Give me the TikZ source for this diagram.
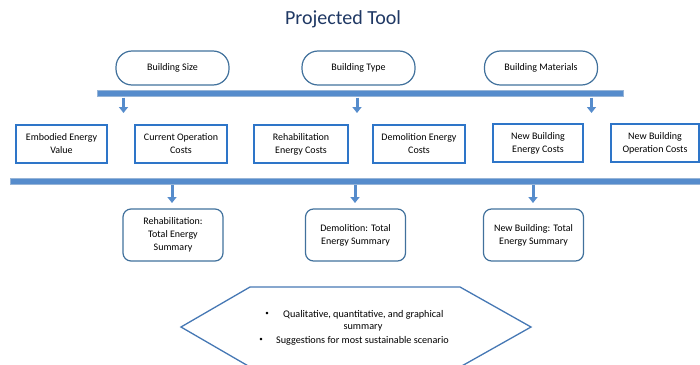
\documentclass[tikz,border=0pt]{standalone}
\usepackage{fontspec}
\setmainfont{Carlito}
\usetikzlibrary{arrows.meta}
\definecolor{titleblue}{RGB}{31,56,100}
\definecolor{boxblue}{RGB}{46,117,200}
\definecolor{pillblue}{RGB}{65,113,156}
\definecolor{hexblue}{RGB}{70,120,180}
\definecolor{barfill}{RGB}{86,140,204}
\definecolor{baredge}{RGB}{150,180,215}
\definecolor{arrowblue}{RGB}{86,140,204}
\tikzset{
  titletext/.style={text=titleblue, font=\fontsize{20}{24}\selectfont, inner sep=0pt},
  pill/.style={draw=pillblue, line width=1.2pt, rounded corners=16pt, minimum width=113pt, minimum height=34pt, font=\fontsize{10}{13}\selectfont, inner sep=0pt},
  rectbox/.style={draw=boxblue, line width=1.5pt, minimum height=38pt, align=center, font=\fontsize{10}{13}\selectfont, inner sep=0pt},
  sumbox/.style={draw=pillblue, line width=1.2pt, rounded corners=8pt, minimum width=100pt, minimum height=52pt, align=center, font=\fontsize{10}{13}\selectfont, inner sep=0pt},
  bar/.style={fill=barfill, draw=baredge, line width=0.8pt, inner sep=0pt, minimum height=6pt},
  blockarrow/.style={draw=arrowblue, line width=3pt, -{Triangle[width=9pt,length=6pt]}},
  hextext/.style={font=\fontsize{10.2}{13}\selectfont, inner sep=0pt, anchor=west},
  bullettext/.style={font=\fontsize{7}{8}\selectfont, inner sep=0pt},
}
\begin{document}
\begin{tikzpicture}[x=1pt,y=-1pt]
\useasboundingbox (0,0) rectangle (700,364);
\clip (0,0) rectangle (700,364);

\node[titletext] (title) at (343,19) {Projected Tool};

% top pills
\node[pill] (bsize) at (172.5,68) {Building Size};
\node[pill] (btype) at (358.5,68) {Building Type};
\node[pill] (bmat) at (541,68) {Building Materials};

% top bar
\node[bar, minimum width=526pt] (topbar) at (360,93.5) {};

% top arrows
\coordinate (ta1s) at (123.5,97.5); \coordinate (ta1e) at (123.5,113);
\coordinate (ta2s) at (357,97.5);   \coordinate (ta2e) at (357,113);
\coordinate (ta3s) at (591.5,97.5); \coordinate (ta3e) at (591.5,113);
\draw[blockarrow] (ta1s) -- (ta1e);
\draw[blockarrow] (ta2s) -- (ta2e);
\draw[blockarrow] (ta3s) -- (ta3e);

% middle boxes
\node[rectbox, minimum width=91pt] (emb) at (61.5,144) {Embodied Energy\\Value};
\node[rectbox, minimum width=92pt] (cur) at (181,144) {Current Operation\\Costs};
\node[rectbox, minimum width=94pt] (reh) at (301,144) {Rehabilitation\\Energy Costs};
\node[rectbox, minimum width=92pt] (dem) at (419,144) {Demolition Energy\\Costs};
\node[rectbox, minimum width=90pt] (nbe) at (538,143) {New Building\\Energy Costs};
\node[rectbox, minimum width=88pt] (nbo) at (655,143) {New Building\\Operation Costs};

% bottom bar
\node[bar, minimum width=700pt] (botbar) at (360,181) {};

% bottom arrows
\coordinate (ba1s) at (172,185); \coordinate (ba1e) at (172,203);
\coordinate (ba2s) at (355,185); \coordinate (ba2e) at (355,203);
\coordinate (ba3s) at (533,185); \coordinate (ba3e) at (533,203);
\draw[blockarrow] (ba1s) -- (ba1e);
\draw[blockarrow] (ba2s) -- (ba2e);
\draw[blockarrow] (ba3s) -- (ba3e);

% summary boxes
\node[sumbox] (rsum) at (173,235) {Rehabilitation:\\Total Energy\\Summary};
\node[sumbox] (dsum) at (355.5,235) {Demolition: Total\\Energy Summary};
\node[sumbox] (nsum) at (533.5,235) {New Building: Total\\Energy Summary};

% hexagon
\coordinate (h1) at (181,327);
\coordinate (h2) at (250,287);
\coordinate (h3) at (460,287);
\coordinate (h4) at (531,327);
\coordinate (h5) at (460,367);
\coordinate (h6) at (250,367);
\draw[hexblue, line width=1.3pt, line join=miter] (h1) -- (h2) -- (h3) -- (h4) -- (h5) -- (h6) -- cycle;

\node[bullettext] (l1b) at (267,314) {\textbullet};
\node[hextext] (l1) at (283,315) {Qualitative, quantitative, and graphical};
\node[hextext, anchor=center] (l2) at (363,328) {summary};
\node[bullettext] (l3b) at (261,340) {\textbullet};
\node[hextext] (l3) at (276,341) {Suggestions for most sustainable scenario};
\end{tikzpicture}
\end{document}
